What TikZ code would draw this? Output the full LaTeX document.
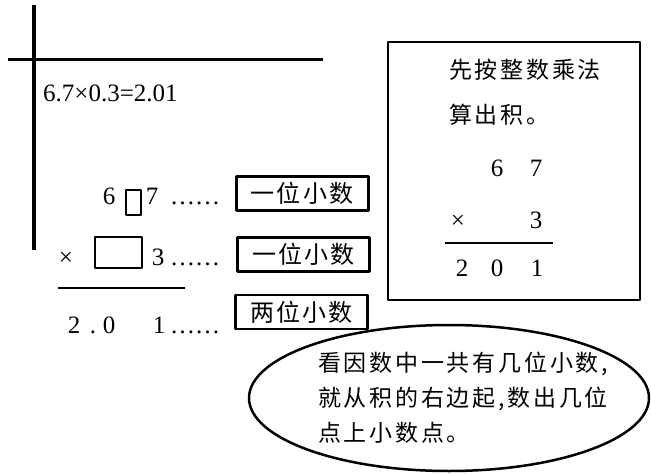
\documentclass[tikz,border=0pt]{standalone}
\usepackage{fontspec}
\setmainfont{Liberation Serif}
\newfontfamily\cjk{Noto Sans CJK SC}[LetterSpace=9]
\newfontfamily\cjkw{Noto Sans CJK SC}[LetterSpace=12]
\usetikzlibrary{shapes.geometric}

\begin{document}
\begin{tikzpicture}[x=1pt,y=-1pt,line join=round,
	num/.style={inner sep=0pt,anchor=base,font=\fontsize{25}{30}\selectfont},
	tag/.style={draw,line width=2.5pt,minimum width=132pt,minimum height=34pt,inner sep=0pt,font=\cjk\fontsize{24}{28}\selectfont},
	han/.style={inner sep=0pt,anchor=west,font=\cjkw\fontsize{23}{28}\selectfont},
	blank/.style={draw,line width=2pt,inner sep=0pt}]
	\useasboundingbox (0,0) rectangle (651,474);
	\coordinate (Vt) at (34,5); \coordinate (Vb) at (34,250);
	\coordinate (Hl) at (8,59); \coordinate (Hr) at (323,59);
	\draw[line width=3.5pt] (Vt) -- (Vb);
	\draw[line width=3pt] (Hl) -- (Hr);
	\node[num,anchor=west] (eq) at (43,93) {6.7×0.3=2.01};
	\node[num] (a6) at (109,204.5) {6};
	\node[blank,minimum width=15pt,minimum height=25pt] (box1) at (133.5,202.5) {};
	\node[num] (a7) at (152,204.5) {7};
	\node[num,anchor=base west] (dot1) at (170,204.5) {……};
	\node[tag,line width=3pt] (tag1) at (302,193.5) {一位小数};
	\node[num] (bx) at (66,265.5) {×};
	\node[blank,minimum width=47pt,minimum height=31pt] (box2) at (118.5,252.5) {};
	\node[num] (b3) at (158,265.5) {3};
	\node[num,anchor=base west] (dot2) at (170,265.5) {……};
	\node[tag] (tag2) at (303.5,254.5) {一位小数};
	\coordinate (Ll) at (58,288); \coordinate (Lr) at (185,288);
	\draw[line width=2pt] (Ll) -- (Lr);
	\node[num] (c2) at (74,333.5) {2};
	\node[num] (cp) at (93,333.5) {.};
	\node[num] (c0) at (109,333.5) {0};
	\node[num] (c1) at (159,333.5) {1};
	\node[num,anchor=base west] (dot3) at (170,333.5) {……};
	\node[tag] (tag3) at (301.5,312) {两位小数};
	\node[draw,line width=2pt,minimum width=252pt,minimum height=258pt] (rule) at (514,171) {};
	\node[han] (r1) at (449,70) {先按整数乘法};
	\node[han] (r2) at (449,115) {算出积。};
	\node[num] (s6) at (497,176.5) {6};
	\node[num] (s7) at (536,176.5) {7};
	\node[num] (sx) at (458,228.5) {×};
	\node[num] (s3) at (536,228.5) {3};
	\coordinate (Sl) at (445,243); \coordinate (Sr) at (553,243);
	\draw[line width=2pt] (Sl) -- (Sr);
	\node[num] (t2) at (462,276.5) {2};
	\node[num] (t0) at (497,276.5) {0};
	\node[num] (t1) at (537,276.5) {1};
	\node[draw,ellipse,line width=2.5pt,minimum width=400pt,minimum height=146pt,inner sep=0pt] (hint) at (449,398) {};
	\node[han] (h1) at (318,364) {看因数中一共有几位小数,};
	\node[han] (h2) at (318,399) {就从积的右边起,数出几位};
	\node[han] (h3) at (318,433) {点上小数点。};
\end{tikzpicture}
\end{document}
